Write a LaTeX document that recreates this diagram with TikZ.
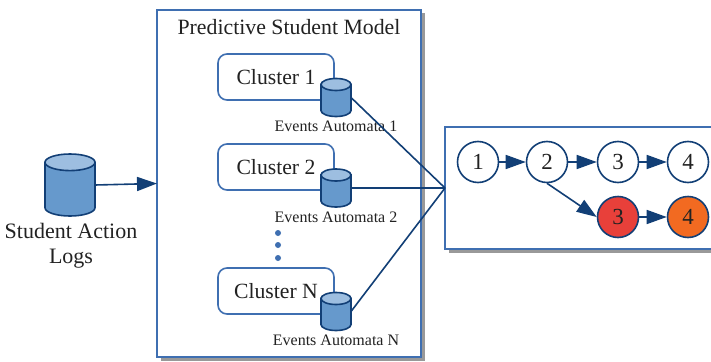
\documentclass[tikz,border=0pt]{standalone}
\usepackage{fontspec}
\setmainfont{Liberation Serif}
\usetikzlibrary{arrows.meta,shapes,shadows}
\definecolor{boxblue}{HTML}{3F6FB1}
\definecolor{lineblue}{HTML}{123F76}
\definecolor{cylblue}{HTML}{6699CC}
\definecolor{cyltop}{HTML}{9DBEE0}
\definecolor{statered}{HTML}{E8403A}
\definecolor{stateorange}{HTML}{F26A21}
\definecolor{inkgray}{HTML}{222222}

\begin{document}
\begin{tikzpicture}[x=1pt,y=-1pt,>={Triangle[length=20pt,width=14pt]},text=inkgray]
  \tikzset{panel/.style={draw=boxblue,line width=1.8pt,fill=white,inner sep=0pt,outer sep=0pt,
      general shadow={shadow xshift=3.5pt,shadow yshift=-3.5pt,fill=black!40}}}
  \tikzset{cluster/.style={draw=boxblue,line width=1.6pt,fill=white,rounded corners=9pt,
      minimum width=116pt,minimum height=46pt,inner sep=0pt,font=\fontsize{21.7}{21.7}\selectfont}}
  \tikzset{store/.style={inner sep=0pt,outer sep=0pt}}
  \tikzset{storeline/.style={draw=lineblue,line width=1.6pt}}
  \tikzset{state/.style={circle,draw=lineblue,line width=1.6pt,fill=white,minimum size=41pt,inner sep=0pt,
      font=\fontsize{23}{23}\selectfont}}
  \tikzset{caption/.style={font=\fontsize{16}{16}\selectfont,inner sep=0pt}}
  \tikzset{dotmark/.style={circle,fill=boxblue,minimum size=6pt,inner sep=0pt}}
  \tikzset{link/.style={draw=lineblue,line width=1.6pt}}
  \useasboundingbox (0,0) rectangle (711,361);

  \node[panel,minimum width=264pt,minimum height=347pt] (model) at (289,183.5) {};
  \node[panel,minimum width=290pt,minimum height=122pt] (detail) at (590,188) {};
  \node[font=\fontsize{21.8}{21.8}\selectfont,inner sep=0pt] (title) at (289,27) {Predictive Student Model};

  \node[cluster] (c1) at (276,77)  {Cluster 1};
  \node[cluster] (c2) at (276,167) {Cluster 2};
  \node[cluster] (cn) at (276,291) {Cluster N};

  % name/x/y/width/height/end radius
  \foreach \name/\px/\py/\w/\h/\r in {logs/70/185/50/62/8.3,s1/336/97.5/30/38/6,s2/336/188/30/38/6,sn/336/311.5/30/38/6} {
    \node[store,minimum width=\w pt,minimum height=\h pt] (\name) at (\px,\py) {};
    \draw[storeline,fill=cylblue] ([yshift=-\r pt]\name.north west) -- ([yshift=\r pt]\name.south west)
      arc[start angle=180,end angle=360,x radius=0.5*\w pt,y radius=\r pt]
      -- ([yshift=-\r pt]\name.north east) -- cycle;
    \draw[storeline,fill=cyltop] ([yshift=-\r pt]\name.north) ellipse[x radius=0.5*\w pt,y radius=\r pt];
  }

  \node[caption] (e1) at (336,126) {Events Automata 1};
  \node[caption] (e2) at (336,217) {Events Automata 2};
  \node[caption] (en) at (336,340) {Events Automata N};

  \node[font=\fontsize{22}{24.5}\selectfont,align=center,inner sep=0pt] (logtext) at (71,245.5) {Student Action\\Logs};

  \node[dotmark] (d1) at (278,233) {};
  \node[dotmark] (d2) at (278,245) {};
  \node[dotmark] (d3) at (278,258) {};

  \node[state] (1)  at (478,162) {1};
  \node[state] (2)  at (547,162) {2};
  \node[state] (3)  at (618,162) {3};
  \node[state] (4)  at (688,162) {4};
  \node[state,fill=statered]    (3b) at (618,217) {3};
  \node[state,fill=stateorange] (4b) at (688,217) {4};

  \draw[link,->] (logs.east) -- (model.west);
  \draw[link] (s1.east) -- (detail.west);
  \draw[link] (s2.east) -- (detail.west);
  \draw[link] (sn.east) -- (detail.west);
  \draw[link,->] (1) -- (2);
  \draw[link,->] (2) -- (3);
  \draw[link,->] (3) -- (4);
  \draw[link,->] (2.south) -- (3b.west);
  \draw[link,->] (3b) -- (4b);
\end{tikzpicture}
\end{document}
